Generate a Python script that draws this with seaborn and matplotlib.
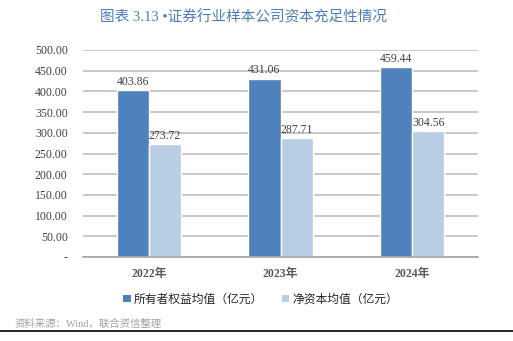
import matplotlib
matplotlib.use("Agg")
import matplotlib.pyplot as plt
import seaborn as sns
import pandas as pd
import numpy as np
from matplotlib.patches import Patch

years = ["2022年", "2023年", "2024年"]
series = ["所有者权益均值（亿元）", "净资本均值（亿元）"]
equity = [403.86, 431.06, 459.44]
netcap = [273.72, 287.71, 304.56]
yticks = [0, 50, 100, 150, 200, 250, 300, 350, 400, 450, 500]
ytick_labels = ["-", "50.00", "100.00", "150.00", "200.00", "250.00", "300.00",
                "350.00", "400.00", "450.00", "500.00"]
title = "图表 3.13 •证券行业样本公司资本充足性情况"
source = "资料来源：Wind，联合资信整理"

sns.set_theme(style="white")
plt.rcParams['font.family'] = ['Liberation Serif', 'Noto Sans CJK SC', 'DejaVu Sans']

df = pd.DataFrame({
    "year": years * 2,
    "series": [series[0]] * 3 + [series[1]] * 3,
    "value": equity + netcap,
})

colors = ["#4F81BD", "#B9CDE5"]
fig = plt.figure(figsize=(5.13, 3.41), dpi=100)
ax = fig.add_axes([83/513, 1 - 257/341, (478-83)/513, (257-50)/341])

sns.barplot(data=df, x="year", y="value", hue="series", palette=colors,
            width=0.49, gap=0, ax=ax, legend=False, saturation=1)

for i, cont in enumerate(ax.containers):
    for bar, v in zip(cont, [equity, netcap][i]):
        ax.text(bar.get_x() + bar.get_width() / 2, v + 5, f"{v:.2f}",
                ha="center", va="bottom", fontsize=8.5, color="#404040",
                family="Liberation Serif")

ax.set_ylim(0, 500)
ax.set_xlim(-0.5, 2.5)
ax.set_yticks(yticks)
ax.set_yticklabels(ytick_labels, fontsize=8.5, color="#404040")
ax.tick_params(axis="y", length=0, pad=11)
ax.tick_params(axis="x", length=0, pad=8, labelsize=8.5, labelcolor="#595959")
for lab in ax.get_xticklabels():
    lab.set_fontweight("bold")
ax.set_xlabel("")
ax.set_ylabel("")
ax.yaxis.grid(True, color="#BFBFBF", linewidth=1.2)
ax.set_axisbelow(True)
for s in ["top", "right", "left"]:
    ax.spines[s].set_visible(False)
ax.spines["bottom"].set_color("#A6A6A6")
ax.spines["bottom"].set_linewidth(1.2)

handles = [Patch(facecolor=c, edgecolor="none") for c in colors]
fig.legend(handles, series, loc="center", bbox_to_anchor=(261/513, 1 - 299/341),
           ncol=2, frameon=False, handlelength=0.6, handleheight=0.6,
           columnspacing=1.6, handletextpad=0.3,
           prop={"family": ["Noto Sans CJK SC"], "size": 8.5})

fig.text(244/513, 1 - 17/341, title, ha="center", va="center", fontsize=10.5,
         color="#4A7EBB", family=["Liberation Serif", "Noto Sans CJK SC"])
fig.text(15/513, 1 - 324/341, source, ha="left", va="center", fontsize=7.5,
         color="#A0A0A0", family=["Liberation Serif", "Noto Sans CJK SC"])
fig.add_artist(plt.Line2D([0, 1], [1 - 331/341] * 2, color="black", linewidth=1.2,
                          transform=fig.transFigure))

fig.savefig("out.png", dpi=100)
